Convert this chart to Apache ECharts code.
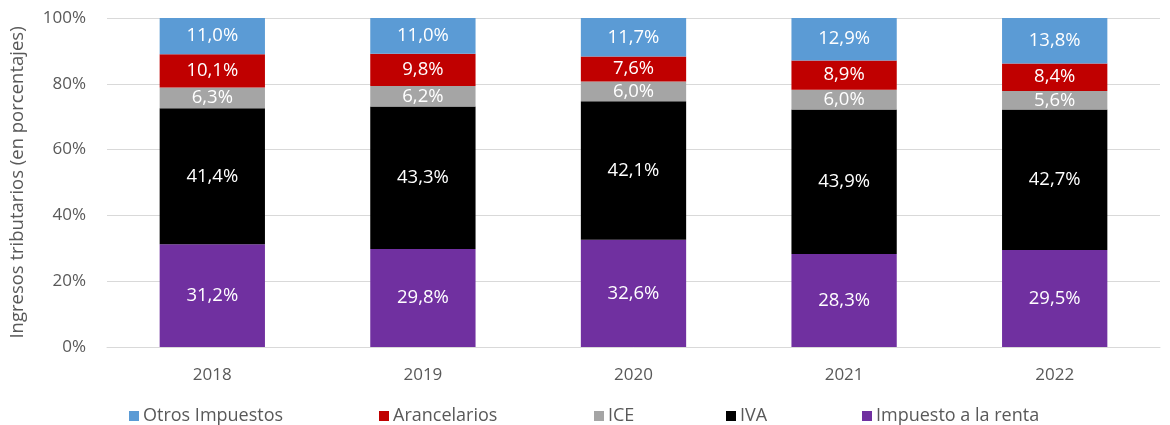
<!DOCTYPE html>
<html>
<head>
<meta charset="utf-8">
<script src="https://cdn.jsdelivr.net/npm/echarts@6/dist/echarts.min.js"></script>
<style>
  html, body { margin: 0; padding: 0; background: #fff; }
  #chart { width: 1170px; height: 425px; }
</style>
</head>
<body>
<div id="chart"></div>
<script>
//categorias
var years = ['2018', '2019', '2020', '2021', '2022'];
//series (porcentajes)
var renta = [31.2, 29.8, 32.6, 28.3, 29.5];
var iva = [41.4, 43.3, 42.1, 43.9, 42.7];
var ice = [6.3, 6.2, 6.0, 6.0, 5.6];
var arancelarios = [10.1, 9.8, 7.6, 8.9, 8.4];
var otros = [11.0, 11.0, 11.7, 12.9, 13.8];
//ticks eje y
var yTicks = [0, 20, 40, 60, 80, 100];

var fontFam = '"Open Sans", sans-serif';
var grey = '#595959';

function pct(p) {
    return p.value.toFixed(1).replace('.', ',') + '%';
}

function barSerie(name, data, color) {
    return {
        name: name,
        type: 'bar',
        stack: 'total',
        barWidth: '50%',
        data: data,
        itemStyle: { color: color },
        label: {
            show: true,
            position: 'inside',
            color: '#fff',
            fontFamily: fontFam,
            fontSize: 18.5,
            formatter: pct
        }
    };
}

//leyendas separadas para fijar posiciones
var legendPos = [
    { name: 'Otros Impuestos', left: 124 },
    { name: 'Arancelarios', left: 374 },
    { name: 'ICE', left: 589 },
    { name: 'IVA', left: 721 },
    { name: 'Impuesto a la renta', left: 857 }
];
var legends = legendPos.map(function (l) {
    return {
        data: [l.name],
        left: l.left,
        top: 402,
        icon: 'rect',
        itemWidth: 10,
        itemHeight: 10,
        itemGap: 5,
        textStyle: { color: grey, fontFamily: fontFam, fontSize: 18, padding: [0, 0, 0, -1] }
    };
});

var myChart = echarts.init(document.getElementById('chart'));
var option = {
    animation: false,
    legend: legends,
    grid: { left: 106, right: 10, top: 18, bottom: 78 },
    xAxis: {
        type: 'category',
        data: years,
        axisLine: { lineStyle: { color: '#d9d9d9', width: 1 } },
        axisTick: { show: false },
        axisLabel: { color: grey, fontFamily: fontFam, fontSize: 17, margin: 20 }
    },
    yAxis: {
        type: 'value',
        min: 0,
        max: 100,
        interval: 20,
        name: 'Ingresos tributarios (en porcentajes)',
        nameLocation: 'middle',
        nameGap: 80,
        nameTextStyle: { color: grey, fontFamily: fontFam, fontSize: 18.5 },
        axisLabel: {
            color: grey, fontFamily: fontFam, fontSize: 17, margin: 21,
            formatter: function (v) { return yTicks.indexOf(v) >= 0 ? v + '%' : ''; }
        },
        splitLine: { lineStyle: { color: '#d9d9d9', width: 1 } }
    },
    series: [
        barSerie('Impuesto a la renta', renta, '#7030A0'),
        barSerie('IVA', iva, '#000000'),
        barSerie('ICE', ice, '#A5A5A5'),
        barSerie('Arancelarios', arancelarios, '#C00000'),
        barSerie('Otros Impuestos', otros, '#5B9BD5')
    ]
};
myChart.setOption(option);
</script>
</body>
</html>
